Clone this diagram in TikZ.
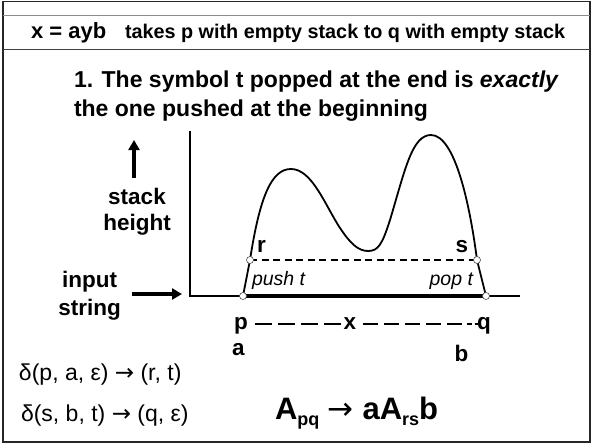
\documentclass[tikz,border=0pt]{standalone}
\usepackage{fontspec}
\setmainfont{Liberation Sans}
\newfontfamily\arrowfont{DejaVu Sans}
\usetikzlibrary{arrows.meta}
\newcommand{\setfs}[1]{\fontsize{#1}{#1}\selectfont}
\newcommand{\rarr}{{\arrowfont\mdseries →}}
\tikzset{
  txt/.style={inner sep=0pt, outer sep=0pt},
  bigb/.style={txt, font=\setfs{22.5}\bfseries},
  dot/.style={circle, draw=black!70, fill=white, line width=0.6pt, minimum size=7pt, inner sep=0pt},
  axis/.style={line width=1.6pt},
  pathline/.style={line width=1.8pt},
  thickarrow/.style={line width=3.2pt, -{Triangle[length=10pt,width=11pt]}},
}
\begin{document}
\begin{tikzpicture}[x=1pt,y=-1pt]
\useasboundingbox (0,0) rectangle (592,444);
% frame
\draw[line width=1.3pt, black!85] (3,1.5) rectangle (590,442);
\draw[line width=0.8pt, black!45] (3,15) -- (590,15);
\draw[line width=0.8pt, black!75] (3,49) -- (590,49);
% title
\node[txt, anchor=base west, font=\setfs{22}\bfseries] (t1) at (31,39) {x = ayb};
\node[txt, anchor=base west, font=\setfs{19.8}\bfseries] (t2) at (125,39) {takes p with empty stack to q with empty stack};
% heading
\node[txt, anchor=base west, font=\setfs{23}\bfseries] (h1) at (74,88) {1. The symbol t popped at the end is \textit{exactly}};
\node[txt, anchor=base west, font=\setfs{23}\bfseries] (h2) at (74,116) {the one pushed at the beginning};
% axes
\coordinate (ytop) at (190,131);
\coordinate (orig) at (190,296);
\coordinate (xend) at (520,296);
\draw[axis] (ytop) -- (orig) -- (xend);
% side labels
\node[bigb, anchor=base] (stack) at (137,204) {stack};
\node[bigb, anchor=base] (height) at (137,230) {height};
\node[bigb, anchor=base] (input) at (89.5,287) {input};
\node[bigb, anchor=base] (string) at (89.5,315) {string};
\coordinate (upa) at (134,178);
\coordinate (upb) at (134,140);
\draw[thickarrow] (upa) -- (upb);
\coordinate (ria) at (132,294);
\coordinate (rib) at (182,294);
\draw[thickarrow] (ria) -- (rib);
% key points
\coordinate (P) at (243,296);
\coordinate (Q) at (486,296);
\coordinate (R) at (250,260);
\coordinate (S) at (477,260);
% input segment
\draw[line width=4pt] (P) -- (Q);
% dashed level
\draw[line width=1.1pt, dash pattern=on 7pt off 4.5pt] (R) -- (S);
% stack curve
\draw[pathline, line join=round] (P) -- (R)
  .. controls (260,195) and (272,169) .. (291,169)
  .. controls (312,169) and (325,205) .. (340,228)
  .. controls (350,243) and (358,251) .. (368,251)
  .. controls (378,251) and (382,245) .. (390,220)
  .. controls (405,170) and (412,135) .. (431,135)
  .. controls (455,135) and (470,205) .. (S)
  -- (Q);
\node[dot] (dP) at (P) {};
\node[dot] (dQ) at (Q) {};
\node[dot] (dR) at (R) {};
\node[dot] (dS) at (S) {};
% labels on the curve
\node[bigb, anchor=base west] (lr) at (257,252) {r};
\node[bigb, anchor=base] (ls) at (462,252) {s};
\node[txt, anchor=base west, font=\setfs{19.5}\itshape] (push) at (252,285) {push t};
\node[txt, anchor=base east, font=\setfs{19.5}\itshape] (pop) at (473,285) {pop t};
% p x q
\node[bigb, anchor=base] (lp) at (241,329) {p};
\node[bigb, anchor=base] (lx) at (350,329) {x};
\node[bigb, anchor=base] (lq) at (484,329) {q};
\node[bigb, anchor=base] (la) at (238.5,355.5) {a};
\node[bigb, anchor=base] (lb) at (461.5,361) {b};
\coordinate (d1a) at (255,323.5);
\coordinate (d1b) at (341,323.5);
\coordinate (d2a) at (363,323.5);
\coordinate (d2b) at (462,323.5);
\coordinate (d3a) at (467,323.5);
\coordinate (d3b) at (472,323.5);
\coordinate (d4a) at (474.5,323.5);
\coordinate (d4b) at (478,323.5);
\draw[line width=2pt, dash pattern=on 17pt off 6pt] (d1a) -- (d1b);
\draw[line width=2pt, dash pattern=on 15pt off 6pt] (d2a) -- (d2b);
\draw[line width=2pt] (d3a) -- (d3b);
\draw[line width=2pt] (d4a) -- (d4b);
% transitions
\node[txt, anchor=base west, font=\setfs{23}] (del1) at (19,380) {δ(p, a, ε) \rarr\ (r, t)};
\node[txt, anchor=base west, font=\setfs{23}] (del2) at (21,421.5) {δ(s, b, t) \rarr\ (q, ε)};
% rule
\node[txt, anchor=base west, font=\setfs{31}\bfseries] (rule) at (275,419.6)
  {A\raisebox{-6pt}{\setfs{18}pq} \rarr\ aA\raisebox{-6pt}{\setfs{18}rs}b};
\end{tikzpicture}
\end{document}
